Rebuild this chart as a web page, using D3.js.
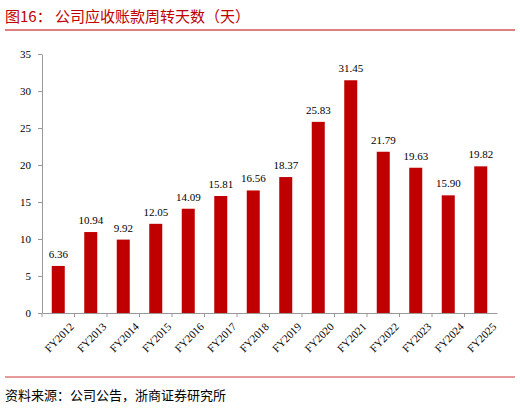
<!DOCTYPE html><html><head><meta charset="utf-8"><script src="https://cdn.jsdelivr.net/npm/d3@7"></script>
<style>body{margin:0;background:#fff}</style></head><body><svg id="c" width="520" height="408"></svg><script>
const categories=["FY2012","FY2013","FY2014","FY2015","FY2016","FY2017","FY2018","FY2019","FY2020","FY2021","FY2022","FY2023","FY2024","FY2025"];
const values=[6.36,10.94,9.92,12.05,14.09,15.81,16.56,18.37,25.83,31.45,21.79,19.63,15.90,19.82];
const yTicks=[0,5,10,15,20,25,30,35];
const svg=d3.select("#c");
const red="#c00000";
svg.append("text").attr("x",5).attr("y",22).attr("fill",red).attr("font-size",15).attr("font-family","'Noto Sans CJK SC',sans-serif").text("图16：  公司应收账款周转天数（天）");
svg.append("line").attr("x1",5).attr("x2",515).attr("y1",30).attr("y2",30).attr("stroke",red).attr("stroke-width",1.2);
const x=d3.scaleBand().domain(categories).range([42,497]).paddingInner(0.6).paddingOuter(0.3);
const y=d3.scaleLinear().domain([0,35]).range([313,54]);
const ya=svg.append("g").attr("transform","translate(42,0)").call(d3.axisLeft(y).tickValues(yTicks).tickSize(4).tickSizeOuter(0));
ya.selectAll("text").attr("font-family","'Liberation Serif',serif").attr("font-size",11).attr("fill","#000").attr("dx",-4);
ya.select(".domain").attr("stroke","#999");ya.selectAll("line").attr("stroke","#999");
const xs=d3.scaleBand().domain(categories).range([42,497]);
const xa=svg.append("g").attr("transform","translate(0,313)").call(d3.axisBottom(xs).tickSize(4).tickSizeOuter(0));
xa.select(".domain").attr("stroke","#999");
xa.selectAll("line").attr("stroke","#999").attr("transform",`translate(${-xs.bandwidth()/2},0)`);
xa.selectAll("text").attr("font-family","'Liberation Serif',serif").attr("font-size",11).attr("fill","#000")
 .attr("text-anchor","end").attr("transform","translate(6,4) rotate(-45)").attr("dy","0.7em");
svg.selectAll("rect.b").data(values).join("rect").attr("x",(d,i)=>x(categories[i])).attr("width",x.bandwidth())
 .attr("y",d=>y(d)).attr("height",d=>313-y(d)).attr("fill",red);
svg.selectAll("text.v").data(values).join("text").attr("x",(d,i)=>x(categories[i])+x.bandwidth()/2).attr("y",d=>y(d)-8)
 .attr("text-anchor","middle").attr("font-family","'Liberation Serif',serif").attr("font-size",11).text(d=>d.toFixed(2));
svg.append("line").attr("x1",5).attr("x2",515).attr("y1",377).attr("y2",377).attr("stroke",red).attr("stroke-width",0.8);
svg.append("text").attr("x",5).attr("y",400).attr("font-size",13).attr("font-family","'Noto Sans CJK SC',sans-serif").text("资料来源：公司公告，浙商证券研究所");
</script></body></html>
